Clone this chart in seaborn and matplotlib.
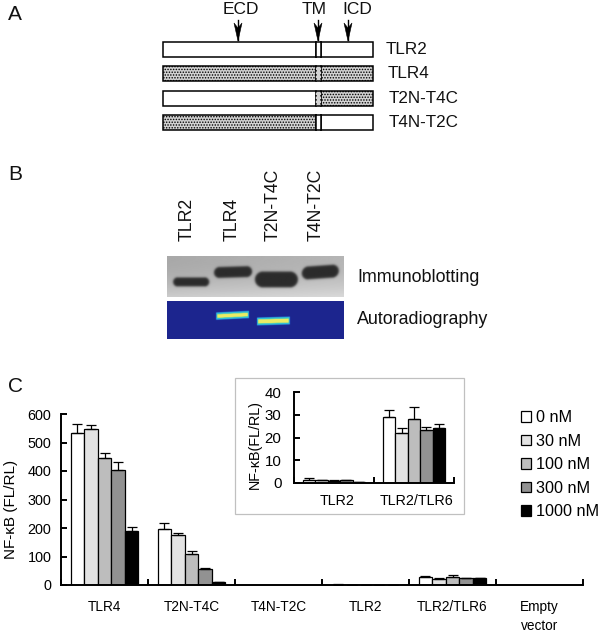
import numpy as np
import pandas as pd
import matplotlib
matplotlib.use("Agg")
import matplotlib.pyplot as plt
from matplotlib.colors import LinearSegmentedColormap
from matplotlib.patches import Rectangle, Polygon
from matplotlib.transforms import ScaledTranslation
import seaborn as sns

doses = ["0 nM", "30 nM", "100 nM", "300 nM", "1000 nM"]
dose_colors = ["#ffffff", "#e3e3e3", "#bdbdbd", "#929292", "#000000"]

main_groups = ["TLR4", "T2N-T4C", "T4N-T2C", "TLR2", "TLR2/TLR6", "Empty\nvector"]
tlr4_vals = [533, 547, 445, 405, 190]
t2n_vals = [198, 175, 110, 57, 10]
t4n_vals = [1, 1, 1, 1, 1]
tlr2_vals = [1.5, 1.2, 1, 1.2, 0.3]
tlr26_vals = [29, 22, 28, 23.5, 24]
empty_vals = [0.5, 0.5, 0.5, 0.5, 0.5]
tlr4_err = [32, 13, 18, 25, 13]
t2n_err = [19, 8, 10, 3, 2]
t4n_err = [0, 0, 0, 0, 0]
tlr2_err = [0.5, 0.3, 0.3, 0.3, 0.1]
tlr26_err = [3, 2, 5.5, 1, 2]
empty_err = [0, 0, 0, 0, 0]

inset_groups = ["TLR2", "TLR2/TLR6"]

constructs = ["TLR2", "TLR4", "T2N-T4C", "T4N-T2C"]
lanes = ["TLR2", "TLR4", "T2N-T4C", "T4N-T2C"]

plt.rcParams["font.family"] = ["Liberation Sans", "DejaVu Sans"]
plt.rcParams["hatch.linewidth"] = 0.7

fig = plt.figure(figsize=(6, 6.34), dpi=100)


def px_axes(x0, y0, x1, y1):
    # axes placed by pixel box, y measured from the top
    return fig.add_axes([x0 / 600, 1 - y1 / 634, (x1 - x0) / 600, (y1 - y0) / 634])


def tidy(values):
    rows = []
    for name, vals in values:
        for d, v in zip(doses, vals):
            rows.append({"group": name, "dose": d, "value": v})
    return pd.DataFrame(rows)


def bars(ax, df, errs, width=0.78, cap=3.5, lw=0.9):
    sns.barplot(data=df, x="group", y="value", hue="dose", hue_order=doses, palette=dose_colors,
                width=width, gap=0, saturation=1, errorbar=None, edgecolor="black", linewidth=lw,
                legend=True, ax=ax)
    for i, cont in enumerate(list(ax.containers)):
        for j, b in enumerate(cont.patches):
            e = errs[j][i]
            if e > 0:
                x = b.get_x() + b.get_width() / 2
                ax.errorbar(x, b.get_height(), yerr=[[0], [e]], color="black", capsize=cap,
                            elinewidth=0.9, capthick=0.9, zorder=1)
    ax.set_xlabel("")
    ax.patch.set_alpha(0)
    sns.despine(ax=ax)
    for s in ["left", "bottom"]:
        ax.spines[s].set_linewidth(1.4)
    n = len(ax.get_xticks())
    ax.set_xlim(-0.5, n - 0.5)
    ax.set_xticks(np.arange(n + 1) - 0.5, minor=True)
    ax.tick_params(axis="x", which="minor", direction="in", length=4, width=1.4)
    ax.tick_params(axis="y", direction="in", length=4, width=1.4, pad=7)


# overlay in pixels for panels A, B and the labels
bg = fig.add_axes([0, 0, 1, 1], zorder=0)
bg.axis("off")

# panel A
bar_x0, bar_x1, tm0, tm1 = 163, 373, 316, 321
row_tops = [42, 66, 91, 115]
row_h = 15
# which part is stippled: ectodomain, C-terminal side
stipple = [(False, False), (True, True), (False, True), (True, False)]
label_x = [386, 388, 389, 389]
dots = "......"
for name, top, (n_dot, c_dot), lx in zip(constructs, row_tops, stipple, label_x):
    fc_n, h_n = ("#d2d2d2", dots) if n_dot else ("white", None)
    fc_c, h_c = ("#d2d2d2", dots) if c_dot else ("white", None)
    bg.add_patch(Rectangle((bar_x0, top), tm0 - bar_x0, row_h, fc=fc_n, ec="black", lw=1.1, hatch=h_n))
    bg.add_patch(Rectangle((tm1, top), bar_x1 - tm1, row_h, fc=fc_c, ec="black", lw=1.1, hatch=h_c))
    bg.add_patch(Rectangle((tm0, top), tm1 - tm0, row_h, fc=fc_c, ec="none", hatch=h_c, lw=0))
    # TM borders turn dotted where the stipple runs through
    style = ":" if c_dot else "-"
    bg.plot([tm0, tm0], [top, top + row_h], color="black", lw=1.1, ls=style)
    bg.plot([tm1, tm1], [top, top + row_h], color="black", lw=1.1, ls=style)
    bg.plot([tm0, tm1], [top, top], color="black", lw=1.1)
    bg.plot([tm0, tm1], [top + row_h, top + row_h], color="black", lw=1.1)
    bg.text(lx, top + 7.5, name, fontsize=12.3, va="center", ha="left", color="#111111")

for name, tx, ax_x in zip(["ECD", "TM", "ICD"], [241, 314, 357], [238, 318, 348]):
    bg.text(tx, 10, name, fontsize=12.5, ha="center", va="center", color="#111111")
    bg.plot([ax_x, ax_x], [20, 40], color="black", lw=1)
    bg.add_patch(Polygon([(ax_x - 4, 23), (ax_x, 28), (ax_x + 4, 23), (ax_x, 41)], fc="black", ec="black", lw=0.4))

for letter, ly in zip(["A", "B", "C"], [15, 175, 386]):
    bg.text(8, ly, letter, fontsize=15, ha="left", va="center", color="#111111")


# panel B, the gel pictures as soft bands
def band(X, Y, x0, x1, y0, y1, slope=0.0, soft=1.6, r=None):
    yc = (y0 + y1) / 2 + slope * (X - (x0 + x1) / 2)
    hh = (y1 - y0) / 2
    if r is None:
        r = min(hh, (x1 - x0) / 2)
    dx = np.maximum(np.abs(X - (x0 + x1) / 2) - ((x1 - x0) / 2 - r), 0)
    dy = np.maximum(np.abs(Y - yc) - (hh - r), 0)
    d = np.hypot(dx, dy) - r
    return 1 / (1 + np.exp(d / soft * 2.5))


X, Y = np.meshgrid(np.arange(167, 344.5, 0.5), np.arange(256, 297.5, 0.5))
blot = 0.66 + 0.14 * ((Y - 256) / 41) ** 2 + 0.05 * np.clip((X - 167) / 177, 0, 1)
blot_bands = [(173, 209, 277.5, 286.5, 0.0), (214, 252, 266.5, 277.5, -0.03), (255, 298, 271.5, 287.5, 0.0), (302, 339, 265.5, 278.5, -0.07)]
for x0, x1, y0, y1, sl in blot_bands:
    blot = blot * (1 - band(X, Y, x0, x1, y0, y1, sl)) + 0.17 * band(X, Y, x0, x1, y0, y1, sl)
bg.imshow(blot, extent=(167, 344, 297, 256), cmap="gray", vmin=0, vmax=1, aspect="auto", interpolation="bilinear")

X2, Y2 = np.meshgrid(np.arange(167, 344.5, 0.5), np.arange(301, 339.5, 0.5))
gel_cmap = LinearSegmentedColormap.from_list("gel", ["#1c2287", "#1f3fc0", "#30c0d8", "#50d890", "#e8e850", "#eeee70"])
rad = 0.03 * np.ones_like(X2)
for x0, x1, y0, y1, sl in [(216, 249, 311.5, 319, -0.05), (257, 290, 317, 325, -0.03)]:
    # the outer band gives the cyan rim, the inner one the yellow core
    rad = np.maximum(rad, 0.45 * band(X2, Y2, x0, x1, y0, y1, sl, soft=0.6, r=0.5))
    rad = np.maximum(rad, band(X2, Y2, x0 + 1, x1 - 1, y0 + 1.8, y1 - 1.8, sl, soft=0.5, r=0.5))
bg.imshow(rad, extent=(167, 344, 339, 301), cmap=gel_cmap, vmin=0, vmax=1, aspect="auto", interpolation="bilinear")

for name, lx in zip(lanes, [187, 232, 273, 316]):
    bg.text(lx, 241, name, rotation=90, fontsize=12.7, ha="center", va="bottom", color="#111111")
bg.text(357, 278, "Immunoblotting", fontsize=12.9, ha="left", va="center", color="#111111")
bg.text(357, 320, "Autoradiography", fontsize=12.9, ha="left", va="center", color="#111111")

# grey frame behind the inset
bg.add_patch(Rectangle((235, 378), 229, 136, fc="white", ec="#c0c0c0", lw=0.9))

bg.set_xlim(0, 600)
bg.set_ylim(634, 0)

# panel C, main chart
ax = px_axes(61, 414, 583, 585)
ax.set_zorder(1)
df = tidy(zip(main_groups, [tlr4_vals, t2n_vals, t4n_vals, tlr2_vals, tlr26_vals, empty_vals]))
bars(ax, df, [tlr4_err, t2n_err, t4n_err, tlr2_err, tlr26_err, empty_err])
ax.set_ylim(0, 600)
ax.set_yticks(range(0, 601, 100))
ax.tick_params(axis="y", labelsize=10.4)
ax.tick_params(axis="x", which="major", length=0, pad=11, labelsize=9.8)
for t in ax.get_xticklabels():
    t.set_linespacing(1.4)
ax.set_ylabel("NF-κB (FL/RL)", fontsize=11)
ax.yaxis.set_label_coords(-0.0815, 0.444)

handles, labels = ax.get_legend_handles_labels()
ax.get_legend().remove()
fig.legend(handles, labels, loc="upper left", bbox_to_anchor=(521 / 600, 1 - 410 / 634), frameon=False,
           fontsize=11.7, labelspacing=0.53, handlelength=0.62, handleheight=0.62, handletextpad=0.32,
           borderpad=0, borderaxespad=0)

# inset
ins = px_axes(294, 392, 454, 483)
ins.set_zorder(2)
df_in = tidy(zip(inset_groups, [tlr2_vals, tlr26_vals]))
bars(ins, df_in, [tlr2_err, tlr26_err])
ins.get_legend().remove()
ins.set_ylim(0, 40)
ins.set_yticks(range(0, 41, 10))
ins.tick_params(axis="y", labelsize=10.8, pad=9)
ins.tick_params(axis="x", which="major", length=0, pad=8, labelsize=10.3)
for t in ins.get_xticklabels():
    t.set_transform(t.get_transform() + ScaledTranslation(3 / 100, 0, fig.dpi_scale_trans))
ins.set_ylabel("NF-κB(FL/RL)", fontsize=10.4)
ins.yaxis.set_label_coords(-0.2, 0.42)

fig.savefig("out.png", dpi=100)
